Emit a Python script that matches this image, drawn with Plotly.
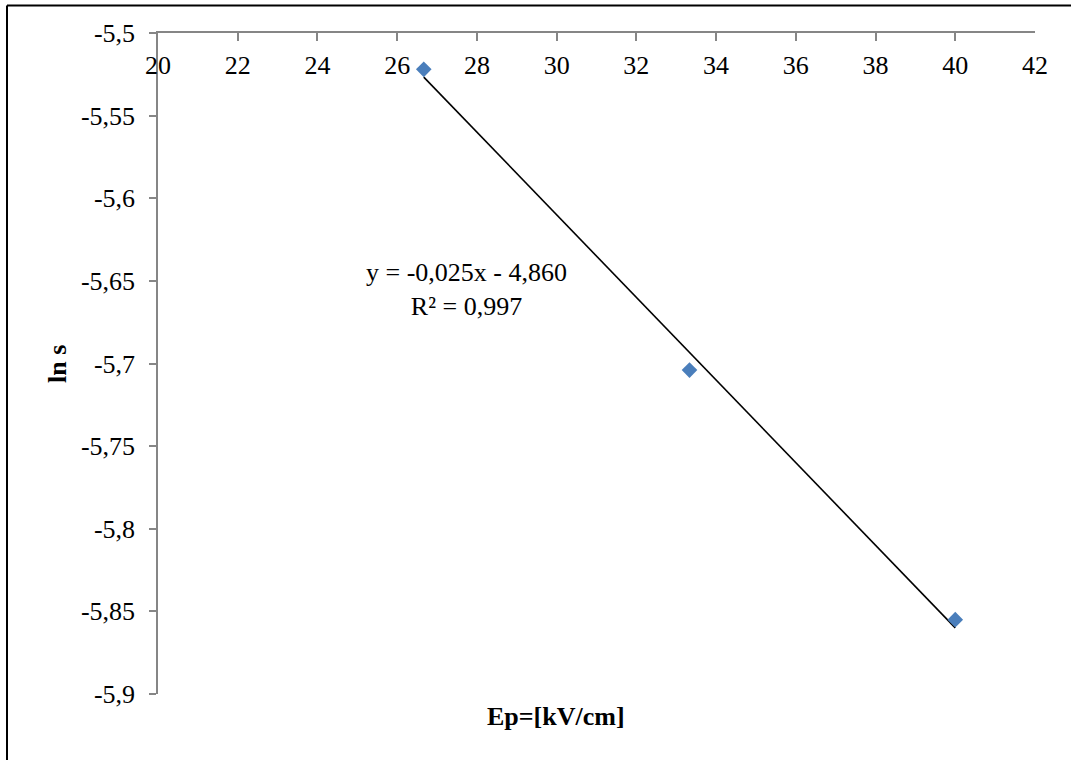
import plotly.graph_objects as go

# Measured data: field strength Ep [kV/cm] against ln s
EP_VALUES = [26.667, 33.333, 40.0]
LN_S_VALUES = [-5.522, -5.704, -5.855]

# Linear trendline coefficients and fit quality (as reported on the chart)
TREND_SLOPE = -0.025
TREND_INTERCEPT = -4.860
TREND_R2 = 0.997

# Axis ticks
X_TICKS = [20, 22, 24, 26, 28, 30, 32, 34, 36, 38, 40, 42]
Y_TICKS = [-5.5, -5.55, -5.6, -5.65, -5.7, -5.75, -5.8, -5.85, -5.9]


def fmt_comma(v, decimals=None):
    s = f"{v:.{decimals}f}" if decimals is not None else f"{v:g}"
    return s.replace(".", ",")


W, H = 1071, 760
L, R, T, B = 158, 36, 33, 66
PW, PH = W - L - R, H - T - B


def px_x(px):
    return (px - L) / PW


def px_y(py):
    return 1 - (py - T) / PH


FONT = "Times New Roman, Liberation Serif, serif"
AXIS_GREY = "#868686"
X_RANGE = [20, 42]

trend_x = [min(EP_VALUES), max(EP_VALUES)]
trend_y = [TREND_SLOPE * x + TREND_INTERCEPT for x in trend_x]

fig = go.Figure()
fig.add_trace(go.Scatter(
    x=trend_x, y=trend_y, mode="lines",
    line=dict(color="black", width=1.6),
    showlegend=False, hoverinfo="skip",
))
fig.add_trace(go.Scatter(
    x=EP_VALUES, y=LN_S_VALUES, mode="markers",
    marker=dict(symbol="diamond", size=12, color="#4a7ebb", line=dict(width=0)),
    showlegend=False,
))

fig.update_layout(
    width=W, height=H,
    margin=dict(l=L, r=R, t=T, b=B, pad=0),
    paper_bgcolor="white", plot_bgcolor="white",
    font=dict(family=FONT, size=26, color="black"),
    # axis line and tick marks across the top of the plot
    xaxis=dict(
        range=X_RANGE, side="top",
        tickvals=X_TICKS, showticklabels=False,
        ticks="inside", ticklen=8, tickcolor=AXIS_GREY, tickwidth=1.5,
        showline=True, linecolor=AXIS_GREY, linewidth=1.5,
        showgrid=False, zeroline=False,
    ),
    # tick labels sitting just below the top axis line
    xaxis2=dict(
        range=X_RANGE, overlaying="x", matches="x",
        anchor="free", position=px_y(33), side="bottom",
        tickvals=X_TICKS, ticktext=[fmt_comma(v) for v in X_TICKS],
        ticks="", showline=False, showgrid=False, zeroline=False,
        ticklabelstandoff=14,
        tickfont=dict(family=FONT, size=26, color="black"),
    ),
    yaxis=dict(
        range=[-5.9, -5.5],
        tickvals=Y_TICKS, ticktext=[fmt_comma(v) for v in Y_TICKS],
        ticks="outside", ticklen=7, tickcolor=AXIS_GREY, tickwidth=1.5,
        ticklabelstandoff=9,
        showline=True, linecolor=AXIS_GREY, linewidth=1.5,
        showgrid=False, zeroline=False,
        tickfont=dict(family=FONT, size=26, color="black"),
    ),
    shapes=[
        # outer chart frame (left and top edges visible)
        dict(type="line", xref="paper", yref="paper",
             x0=px_x(7), x1=px_x(7), y0=px_y(5.5), y1=px_y(800),
             line=dict(color="black", width=2)),
        dict(type="line", xref="paper", yref="paper",
             x0=px_x(7), x1=px_x(1100), y0=px_y(5.5), y1=px_y(5.5),
             line=dict(color="black", width=2)),
    ],
    annotations=[
        dict(text=f"y = {fmt_comma(TREND_SLOPE, 3)}x - {fmt_comma(abs(TREND_INTERCEPT), 3)}<br>"
                  f"R² = {fmt_comma(TREND_R2, 3)}",
             xref="paper", yref="paper", x=px_x(466), y=px_y(289),
             xanchor="center", yanchor="middle", showarrow=False,
             font=dict(family=FONT, size=26, color="black"), align="center"),
        dict(text="<b>Ep=[kV/cm]</b>", xref="paper", yref="paper",
             x=px_x(555.5), y=px_y(717), xanchor="center", yanchor="middle",
             showarrow=False, font=dict(family=FONT, size=26, color="black")),
        dict(text="<b>ln s</b>", xref="paper", yref="paper",
             x=px_x(57), y=px_y(364), xanchor="center", yanchor="middle",
             textangle=-90, showarrow=False,
             font=dict(family=FONT, size=26, color="black")),
    ],
)

# an invisible trace on the label axis so it is laid out
fig.add_trace(go.Scatter(
    x=[X_RANGE[0]], y=[None], xaxis="x2", yaxis="y",
    mode="markers", showlegend=False, hoverinfo="skip",
))

fig.write_html("out.html")
